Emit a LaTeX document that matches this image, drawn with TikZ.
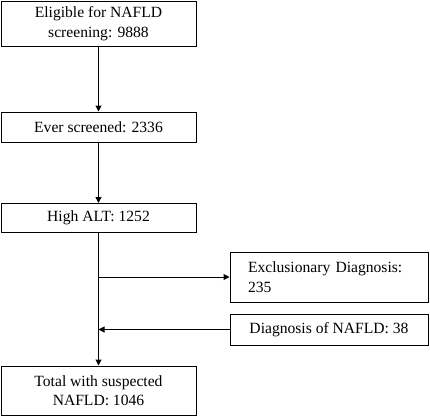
\documentclass[tikz,border=0pt]{standalone}
\usepackage{fontspec}
\setmainfont{Liberation Serif}
\usetikzlibrary{arrows.meta}
\begin{document}
\begin{tikzpicture}[x=1pt,y=-1pt,
  box/.style={draw,line width=1pt,inner sep=0pt,font=\fontsize{15.6}{19.5}\selectfont,align=center},
  conn/.style={line width=1pt,-{Triangle[length=6pt,width=6pt]}}]
\useasboundingbox (0,0) rectangle (430,416);
\node[box,minimum width=195pt,minimum height=45pt] (a) at (98.5,23.5) {Eligible for NAFLD\\screening: 9888};
\node[box,minimum width=195pt,minimum height=30pt] (b) at (98.5,127) {Ever screened: 2336};
\node[box,minimum width=195pt,minimum height=29pt] (c) at (98.5,218) {High ALT: 1252};
\node[box,minimum width=195pt,minimum height=49pt] (d) at (98.5,390.5) {Total with suspected\\NAFLD: 1046};
\node[box,minimum width=198pt,minimum height=50pt,align=left,text width=162pt] (e) at (329,277) {Exclusionary Diagnosis:\\235};
\node[box,minimum width=198pt,minimum height=31pt] (f) at (329,329.5) {Diagnosis of NAFLD: 38};
\coordinate (j1) at (98.5,277);
\coordinate (j2) at (98.5,329.5);
\draw[conn] (a) -- (b);
\draw[conn] (b) -- (c);
\draw[conn] (c) -- (d);
\draw[conn] (j1) -- (e);
\draw[conn] (f) -- (j2);
\end{tikzpicture}
\end{document}
